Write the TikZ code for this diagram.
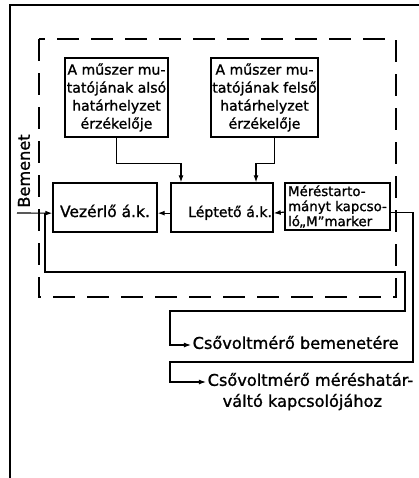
\documentclass[tikz,border=0pt]{standalone}
\usepackage{fontspec}
\setmainfont{DejaVu Sans}[FakeBold=1.2]
\usepackage{tikz}
\usetikzlibrary{arrows.meta,positioning,calc}

\begin{document}
\begin{tikzpicture}[x=0.025cm,y=-0.025cm,
  blk/.style={draw, line width=0.9pt, inner sep=1pt, align=center},
  sens/.style={blk, minimum width=2.575cm, minimum height=1.975cm,
    font=\fontsize{10}{12.8}\selectfont},
  unit/.style={blk, minimum width=2.6cm, minimum height=1.225cm,
    text height=0.85cm, text depth=0.375cm, inner ysep=0pt},
  lbl/.style={anchor=mid west, inner sep=1pt, font=\fontsize{11.5}{14}\selectfont},
  arr/.style={-{Latex[length=5pt,width=3.5pt]}, line width=0.8pt},
  grp/.style={line width=0.9pt, dash pattern=on 0.55cm off 0.3cm}]
  \useasboundingbox (0,0) rectangle (419,478);
  % Page frame
  \draw[line width=1pt] (419,5) -- (10,5) -- (10,478);
  % Dashed group
  \draw[grp] (39,39) rectangle (396,297);
  % Sensors
  \node[sens] (low) at (116.5,97.5)
    {A műszer mu-\\tatójának alsó\\határhelyzet\\érzékelője};
  \node[sens] (high) at (264.5,97.5)
    {A műszer mu-\\tatójának felső\\határhelyzet\\érzékelője};
  % Units
  \node[unit, font=\fontsize{11}{13}\selectfont] (vez) at (105,207.5) {Vezérlő á.k.};
  \node[unit, minimum width=2.55cm, text width=2.5cm, inner xsep=0.025cm,
    align=right, font=\fontsize{10}{12}\selectfont] (lep) at (222,207.5) {Léptető á.k.};
  \node[blk, minimum width=2.625cm, minimum height=1.175cm, align=left,
    inner xsep=1.5pt, font=\fontsize{9.5}{10.7}\selectfont] (mer) at (337.5,206.5)
    {Méréstarto-\\mányt kapcso-\\ló„M”marker};
  % Input
  \node[rotate=90, font=\fontsize{11.5}{14}\selectfont] (inlbl) at (24,171) {Bemenet};
  \coordinate (in) at (17,213);
  \coordinate (jn) at (45,213);
  % Outputs
  \node[lbl] (out1) at (191,345) {Csővoltmérő bemenetére};
  \node[lbl] (out2) at (206,382) {Csővoltmérő méréshatár-};
  \node[lbl] (out2b) at (221,403) {váltó kapcsolójához};
  % Arrows
  \draw[arr] (low.south) -- ++(0,26) -| ([xshift=-1.025cm]lep.north);
  \draw[arr] ([xshift=0.24cm]high.south) -- ++(0,26) -| ([xshift=0.85cm]lep.north);
  \draw[arr] (lep.mid west) -- (vez.mid east);
  \draw[arr] ([yshift=-0.14cm]mer.west) -- (lep.mid east);
  \draw[arr] (in) -- (vez.mid west);
  \draw[arr] (jn) -- (45,272) -- (405,272) -- (405,311) -- (170,311) |- (out1.mid west);
  \draw[arr] ([yshift=-0.14cm]mer.east) -| (413,362) -- (170,362) |- (out2.mid west);
\end{tikzpicture}
\end{document}
